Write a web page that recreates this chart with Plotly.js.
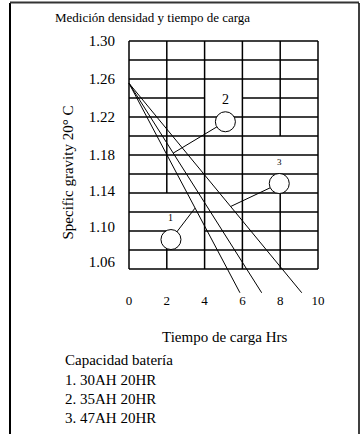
<!DOCTYPE html>
<html lang="es">
<head>
<meta charset="UTF-8">
<title>Medición densidad y tiempo de carga</title>
<script src="https://cdn.plot.ly/plotly-3.0.1.min.js"></script>
<style>
    body { margin: 0; background: #fff; }
    #plot { width: 360px; height: 434px; }
</style>
</head>
<body>
<div id="plot"></div>
<script>
    // Ejes
    const hourTicks = [0, 2, 4, 6, 8, 10];
    const gravityTickText = ['1.30', '1.26', '1.22', '1.18', '1.14', '1.10', '1.06'];
    const gravityTickPos = [1.30, 1.26, 1.22, 1.18, 1.142, 1.105, 1.068];

    // Curvas de carga (todas salen del mismo punto)
    const curveNames = ['1', '2', '3'];
    const curveStartX = [0, 0, 0];
    const curveStartY = [1.2555, 1.2555, 1.2555];
    const curveEndX = [5.87, 7.02, 9.14];
    const curveEndY = [1.035, 1.035, 1.035];

    // Círculos con número y su línea de referencia
    const circleX = [2.22, 5.10, 7.95];
    const circleY = [1.091, 1.215, 1.150];
    const leaderX = [3.49, 2.34, 5.40];
    const leaderY = [1.124, 1.182, 1.126];
    const circleLabelSize = [10, 14, 9];

    // Leyenda
    const legendTitle = 'Capacidad batería';
    const legendItems = ['1. 30AH 20HR', '2. 35AH 20HR', '3. 47AH 20HR'];

    // Cuadrícula
    const gridCols = [0, 2, 4, 6, 8, 10];
    const gridRows = [1.30, 1.28, 1.26, 1.24, 1.22, 1.20, 1.18, 1.16, 1.14, 1.12, 1.10, 1.08, 1.06];
    // tramos en blanco del original [línea, desde, hasta]
    const rowGaps = [[1.24, 4, 6], [1.10, 2, 4]];
    const colGaps = [[2, 1.09, 1.14], [8, 1.15, 1.20]];

    const FONT = 'Liberation Serif, Times New Roman, serif';

    // área del gráfico en píxeles
    const L = 128, R = 320, T = 39, B = 293;
    const px = x => (x - L) / (R - L);
    const py = y => (B - y) / (B - T);

    function pieces(a, b, gaps) {
        let segs = [[a, b]];
        gaps.forEach(([g0, g1]) => {
            const out = [];
            segs.forEach(([s0, s1]) => {
                if (g1 <= s0 || g0 >= s1) { out.push([s0, s1]); return; }
                if (g0 > s0) out.push([s0, g0]);
                if (g1 < s1) out.push([g1, s1]);
            });
            segs = out;
        });
        return segs;
    }

    const gridLine = { color: '#000', width: 1.5 };
    const shapes = [];
    gridRows.forEach(y => {
        const gaps = rowGaps.filter(g => g[0] === y).map(g => [g[1], g[2]]);
        pieces(gridCols[0], gridCols[gridCols.length - 1], gaps).forEach(([x0, x1]) => {
            shapes.push({ type: 'line', xref: 'x', yref: 'y', x0, x1, y0: y, y1: y, line: gridLine, layer: 'below' });
        });
    });
    gridCols.forEach(x => {
        const gaps = colGaps.filter(g => g[0] === x).map(g => [g[1], g[2]]);
        pieces(gridRows[gridRows.length - 1], gridRows[0], gaps).forEach(([y0, y1]) => {
            shapes.push({ type: 'line', xref: 'x', yref: 'y', x0: x, x1: x, y0, y1, line: gridLine, layer: 'below' });
        });
    });

    // marco de la figura
    shapes.push({ type: 'line', xref: 'paper', yref: 'paper', x0: px(10), x1: px(10), y0: py(3), y1: py(440), line: { color: '#000', width: 2 } });
    shapes.push({ type: 'line', xref: 'paper', yref: 'paper', x0: px(10), x1: px(359), y0: py(2.5), y1: py(2.5), line: { color: '#333', width: 2 } });
    shapes.push({ type: 'line', xref: 'paper', yref: 'paper', x0: px(359), x1: px(359), y0: py(3), y1: py(440), line: { color: '#000', width: 1.5 } });

    const data = [];
    curveNames.forEach((name, i) => {
        data.push({
            type: 'scatter', mode: 'lines', name,
            x: [curveStartX[i], curveEndX[i]],
            y: [curveStartY[i], curveEndY[i]],
            line: { color: '#000', width: 1 },
            hoverinfo: 'skip'
        });
    });
    curveNames.forEach((name, i) => {
        data.push({
            type: 'scatter', mode: 'lines',
            x: [circleX[i], leaderX[i]],
            y: [circleY[i], leaderY[i]],
            line: { color: '#000', width: 1 },
            hoverinfo: 'skip'
        });
    });
    data.push({
        type: 'scatter', mode: 'markers',
        x: circleX, y: circleY,
        marker: { symbol: 'circle', size: 20, color: '#fff', line: { color: '#000', width: 1 } },
        cliponaxis: false,
        hoverinfo: 'skip'
    });

    const annotations = [];
    const txt = (text, x, y, size, extra) => Object.assign({
        text, xref: 'paper', yref: 'paper', x: px(x), y: py(y),
        xanchor: 'center', yanchor: 'middle', showarrow: false,
        font: { family: FONT, size, color: '#000' }
    }, extra || {});

    annotations.push(txt('Medición densidad y tiempo de carga', 152, 17.5, 13));
    annotations.push(txt('Specific gravity 20° C', 67.5, 173, 15, { textangle: -90 }));
    annotations.push(txt('Tiempo de carga Hrs', 225, 337, 15));
    annotations.push(txt(legendTitle, 63, 360, 15, { xanchor: 'left' }));
    legendItems.forEach((t, i) => annotations.push(txt(t, 63, 379.5 + i * 19.2, 15, { xanchor: 'left' })));

    curveNames.forEach((name, i) => {
        annotations.push({
            text: name, xref: 'x', yref: 'y', x: circleX[i], y: circleY[i], yshift: 22,
            showarrow: false, xanchor: 'center', yanchor: 'middle',
            font: { family: FONT, size: circleLabelSize[i], color: '#000' }
        });
    });

    const layout = {
        width: 360, height: 434,
        margin: { l: L, r: 360 - R, t: T, b: 434 - B, pad: 0 },
        paper_bgcolor: '#fff', plot_bgcolor: '#fff',
        showlegend: false,
        font: { family: FONT, color: '#000' },
        xaxis: {
            range: [(L - 129) / 18.9, (R - 129) / 18.9],
            tickvals: hourTicks, ticktext: hourTicks.map(String),
            showgrid: false, zeroline: false, showline: false,
            ticks: '', ticklabelstandoff: -2,
            tickfont: { family: FONT, size: 13 }
        },
        yaxis: {
            range: [1.30 - (B - 41) / 950, 1.30 + (41 - T) / 950],
            tickvals: gravityTickPos, ticktext: gravityTickText,
            showgrid: false, zeroline: false, showline: false,
            ticks: 'outside', ticklen: 9, tickcolor: 'rgba(0,0,0,0)',
            tickfont: { family: FONT, size: 15 }
        },
        shapes, annotations
    };

    Plotly.newPlot('plot', data, layout, { displayModeBar: false, staticPlot: true });
</script>
</body>
</html>
